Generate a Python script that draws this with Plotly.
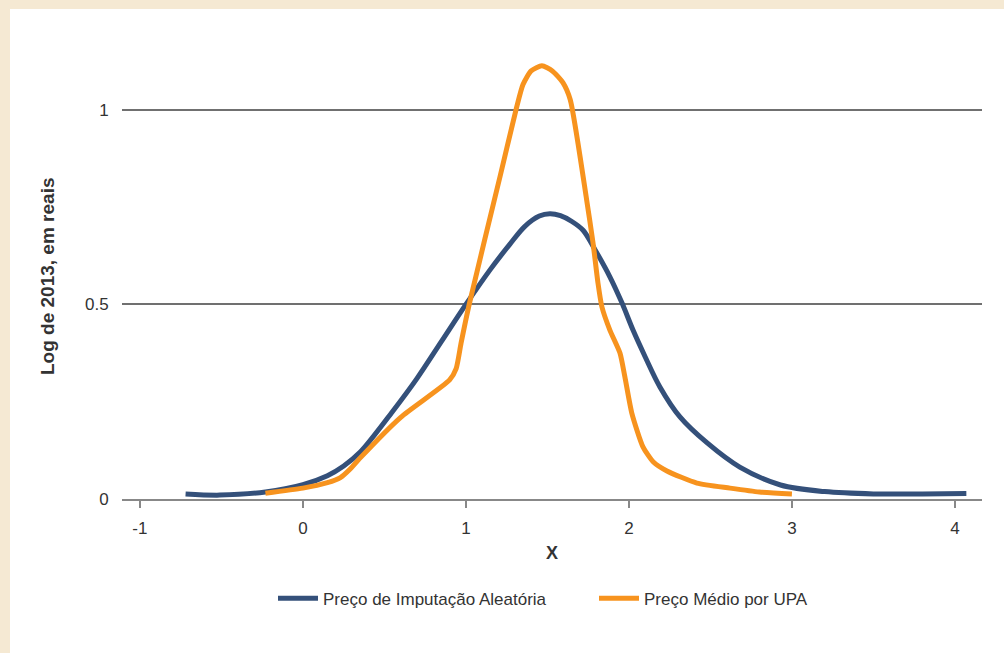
import plotly.graph_objects as go

# Navy series: Preço de Imputação Aleatória
x_navy = [-0.72, -0.51, -0.23, 0.0, 0.15, 0.25, 0.35, 0.55, 0.70, 0.85, 1.0, 1.15, 1.27, 1.36, 1.45, 1.515, 1.58, 1.65, 1.72, 1.79, 1.883, 1.957, 2.025, 2.10, 2.19, 2.313, 2.48, 2.68, 2.93, 3.2, 3.5, 3.8, 4.07]
y_navy = [0.013, 0.010, 0.018, 0.037, 0.06, 0.085, 0.12, 0.225, 0.31, 0.405, 0.50, 0.59, 0.655, 0.70, 0.727, 0.733, 0.728, 0.713, 0.69, 0.642, 0.571, 0.504, 0.434, 0.365, 0.288, 0.211, 0.144, 0.082, 0.036, 0.019, 0.013, 0.013, 0.014]

# Orange series: Preço Médio por UPA
x_orange = [-0.23, 0.0, 0.15, 0.23, 0.29, 0.35, 0.60, 0.90, 0.94, 0.97, 1.02, 1.21, 1.31, 1.35, 1.40, 1.466, 1.53, 1.595, 1.64, 1.74, 1.78, 1.81, 1.834, 1.883, 1.945, 1.975, 2.018, 2.086, 2.15, 2.233, 2.417, 2.62, 2.8, 3.0]
y_orange = [0.015, 0.028, 0.042, 0.055, 0.077, 0.105, 0.21, 0.306, 0.335, 0.40, 0.50, 0.83, 1.005, 1.065, 1.10, 1.113, 1.10, 1.07, 1.026, 0.77, 0.657, 0.555, 0.494, 0.434, 0.375, 0.314, 0.22, 0.134, 0.095, 0.072, 0.041, 0.028, 0.018, 0.013]

x_ticks = [-1, 0, 1, 2, 3, 4]
x_tick_labels = ["-1", "0", "1", "2", "3", "4"]
y_ticks = [0, 0.5, 1]
y_tick_labels = ["0", "0.5", "1"]

navy = "#34507a"
orange = "#f7931e"
beige = "#f5e9d3"
text_color = "#333333"
font_family = "Liberation Sans, Arial, sans-serif"

fig = go.Figure()
fig.add_trace(go.Scatter(x=x_navy, y=y_navy, mode="lines", name="Preço de Imputação Aleatória",
                         line=dict(color=navy, width=5, shape="spline", smoothing=0.9)))
fig.add_trace(go.Scatter(x=x_orange, y=y_orange, mode="lines", name="Preço Médio por UPA",
                         line=dict(color=orange, width=5, shape="spline", smoothing=0.6)))

L, R, T, B = 122, 22, 32, 154
W, H = 1004, 653
pw = W - L - R
ph = H - T - B

fig.add_shape(type="rect", xref="paper", yref="paper",
              x0=-L / pw, x1=(10 - L) / pw, y0=-B / ph, y1=(H - B) / ph,
              fillcolor=beige, line=dict(width=0), layer="below")
fig.add_shape(type="rect", xref="paper", yref="paper",
              x0=-L / pw, x1=(W - L) / pw, y0=(H - B - 9) / ph, y1=(H - B) / ph,
              fillcolor=beige, line=dict(width=0), layer="below")

fig.add_annotation(text="<b>Log de 2013, em reais</b>", textangle=-90, showarrow=False,
                   xref="paper", yref="paper", x=(47 - L) / pw, y=(499 - 276) / ph,
                   xanchor="center", yanchor="middle",
                   font=dict(size=19, color=text_color, family=font_family))

fig.update_layout(
    width=W, height=H,
    margin=dict(l=L, r=R, t=T, b=B),
    paper_bgcolor="white", plot_bgcolor="white",
    font=dict(family=font_family, size=17, color=text_color),
    showlegend=True,
    legend=dict(orientation="h", x=(273 - L) / pw, xanchor="left", y=-0.175, yanchor="top",
                font=dict(size=17, color=text_color), itemwidth=40, entrywidth=266),
    xaxis=dict(range=[-1.11, 4.166], tickvals=x_ticks, ticktext=x_tick_labels, ticks="outside", ticklen=7,
               tickwidth=2, tickcolor="#888888", showline=True, linecolor="#888888",
               linewidth=2, showgrid=False, zeroline=False, ticklabelstandoff=6,
               tickfont=dict(size=17),
               title=dict(text="<b>X</b>", font=dict(size=18, color=text_color), standoff=9)),
    yaxis=dict(range=[0, 1.2], tickvals=y_ticks, ticktext=y_tick_labels, ticks="outside",
               ticklen=9, tickcolor="rgba(0,0,0,0)", showgrid=True, gridcolor="#707070",
               gridwidth=1.5, zeroline=False, showline=False,
               tickfont=dict(size=17)),
)

fig.write_html("out.html", config={"displayModeBar": False},
               post_script="document.body.style.margin='0';document.body.style.overflow='hidden';")
